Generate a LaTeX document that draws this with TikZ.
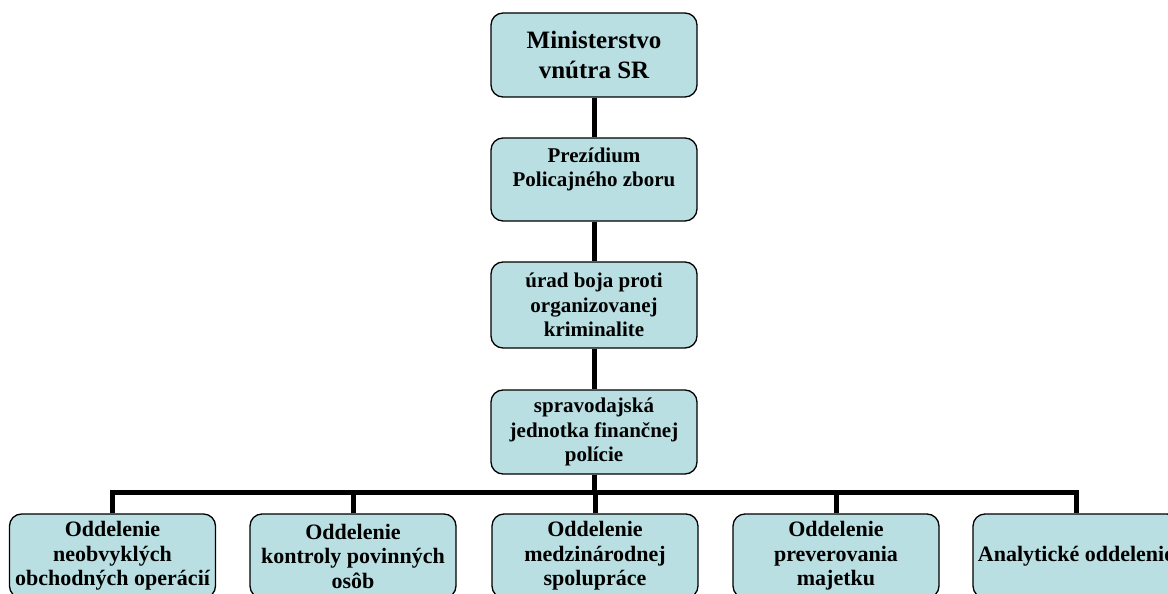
\documentclass[tikz,border=0pt]{standalone}
\usepackage{fontspec}
\setmainfont{Liberation Serif}
\usetikzlibrary{positioning}
\definecolor{boxblue}{RGB}{185,223,226}
\tikzset{
  unit/.style={draw, line width=1.3pt, rounded corners=12pt, fill=boxblue, align=center,
    font=\bfseries\fontsize{21}{24.5}\selectfont, minimum width=206pt, minimum height=84pt, inner sep=2pt},
  dept/.style={unit, font=\bfseries\fontsize{22}{24.5}\selectfont},
  link/.style={line width=5pt},
}
\begin{document}
\begin{tikzpicture}[x=1pt,y=-1pt]
\useasboundingbox (0,0) rectangle (1168,594);
\clip (0,0) rectangle (1168,594);
% chain of command
\node[unit, font=\bfseries\fontsize{25}{30}\selectfont] (min) at (594,55) {Ministerstvo\\vnútra SR};
\node[unit, minimum height=83pt] (pre) at (594,179.5) {Prezídium\\Policajného zboru\\~};
\node[unit, minimum height=86pt] (ubok) at (594,305) {úrad boja proti\\organizovanej\\kriminalite};
\node[unit] (sjfp) at (594,432) {spravodajská\\jednotka finančnej\\polície};
% departments
\node[dept] (odA) at (112.5,556) {Oddelenie\\neobvyklých\\obchodných operácií};
\node[dept] (odB) at (353,556) {Oddelenie\\kontroly povinných\\osôb};
\node[dept] (odC) at (595,556) {Oddelenie\\medzinárodnej\\spolupráce};
\node[dept] (odD) at (836,556) {Oddelenie\\preverovania\\majetku};
\node[dept] (odE) at (1076,556) {Analytické oddelenie};
\coordinate (bus) at (594,492);
\draw[link] (min) -- (pre);
\draw[link] (pre) -- (ubok);
\draw[link] (ubok) -- (sjfp);
\draw[link] (sjfp) -- (bus);
\draw[link] (odA.north) -- (odA.north |- bus) -- (odE.north |- bus) -- (odE.north);
\draw[link] (odB.north) -- (odB.north |- bus);
\draw[link] (odC.north) -- (odC.north |- bus);
\draw[link] (odD.north) -- (odD.north |- bus);
\end{tikzpicture}
\end{document}
